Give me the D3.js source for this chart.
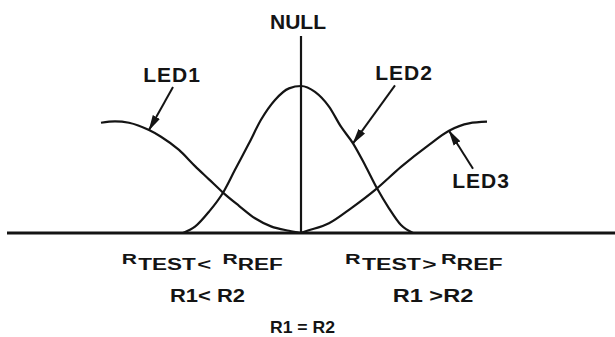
<html>

<head>
    <script src="https://d3js.org/d3.v7.min.js"></script>
    <style>
        body {
            margin: 0px;
            background-color: white;
        }

        text {
            font-family: Arial;
            font-weight: bold;
            fill: #141414;
        }

        .curve {
            fill: none;
            stroke: #141414;
            stroke-width: 2.2;
        }
    </style>
</head>

<body>
    <svg id="chart" width="615" height="337"></svg>
</body>

<script>
    // Position relative to the null point (arbitrary units) and LED response (LED2 peak = 1)
    const led1X = [-10, -9.3, -8.6, -7.6, -7, -6.1, -5.3, -4.6, -3.9, -3.1, -2.3, -1.5, -0.6, 0];
    const led1Y = [0.75, 0.76, 0.75, 0.70, 0.655, 0.565, 0.455, 0.365, 0.275, 0.185, 0.10, 0.045, 0.015, 0];

    const led2X = [-5.9, -5.3, -4.6, -3.9, -3.3, -2.6, -2, -1.3, -0.6, 0, 0.7, 1.4, 2, 2.6, 3.2, 3.8, 4.4, 5, 5.6];
    const led2Y = [0, 0.043, 0.145, 0.274, 0.43, 0.61, 0.77, 0.905, 0.984, 1, 0.96, 0.86, 0.723, 0.61, 0.463, 0.304, 0.168, 0.054, 0];

    const led3X = [0, 0.2, 1.4, 2.5, 3.8, 5, 6.4, 7.4, 8.4, 9.3];
    const led3Y = [0, 0.01, 0.066, 0.168, 0.304, 0.45, 0.6, 0.696, 0.746, 0.757];

    const seriesNames = ["LED1", "LED2", "LED3"];
    const nullLabel = "NULL";
    const leftConds = ["R1< R2"];
    const rightConds = ["R1 >R2"];
    const equalCond = "R1 = R2";

    const svg = d3.select("#chart");

    const xScale = d3.scaleLinear().domain([-10, 10]).range([101, 501]);
    const yScale = d3.scaleLinear().domain([0, 1]).range([233, 86]);

    const series = [
        { name: seriesNames[0], pts: led1X.map((x, i) => [x, led1Y[i]]), tip: 3, tail: [24, -43], label: [-1, -5] },
        { name: seriesNames[1], pts: led2X.map((x, i) => [x, led2Y[i]]), tip: 13, tail: [42, -58], label: [9, -5] },
        { name: seriesNames[2], pts: led3X.map((x, i) => [x, led3Y[i]]), tip: 7, tail: [24, 38], label: [8, 19] }
    ];

    // arrow head
    svg.append("defs").append("marker")
        .attr("id", "head")
        .attr("markerUnits", "userSpaceOnUse")
        .attr("markerWidth", 16).attr("markerHeight", 10)
        .attr("refX", 15).attr("refY", 5)
        .attr("orient", "auto")
        .append("path")
        .attr("d", "M0,1 L16,5 L0,9 Z")
        .attr("fill", "#141414");

    // baseline
    svg.append("line")
        .attr("x1", 7).attr("x2", 615)
        .attr("y1", yScale(0)).attr("y2", yScale(0))
        .attr("stroke", "#141414").attr("stroke-width", 3.2);

    // null line
    svg.append("line")
        .attr("x1", xScale(0)).attr("x2", xScale(0))
        .attr("y1", yScale(1.34)).attr("y2", yScale(0))
        .attr("stroke", "#141414").attr("stroke-width", 2.2);

    svg.append("text")
        .attr("x", xScale(0) - 3).attr("y", 29)
        .attr("text-anchor", "middle")
        .attr("font-size", 21)
        .text(nullLabel);

    const lineGen = d3.line()
        .x(d => xScale(d[0]))
        .y(d => yScale(d[1]))
        .curve(d3.curveMonotoneX);

    svg.selectAll("path.curve").data(series)
        .join("path")
        .attr("class", "curve")
        .attr("d", d => lineGen(d.pts));

    // arrows + labels
    series.forEach(s => {
        const tx = xScale(s.pts[s.tip][0]);
        const ty = yScale(s.pts[s.tip][1]);
        const sx = tx + s.tail[0];
        const sy = ty + s.tail[1];
        svg.append("line")
            .attr("x1", sx).attr("y1", sy)
            .attr("x2", tx).attr("y2", ty)
            .attr("stroke", "#141414").attr("stroke-width", 2)
            .attr("marker-end", "url(#head)");
        svg.append("text")
            .attr("x", sx + s.label[0]).attr("y", sy + s.label[1])
            .attr("text-anchor", "middle")
            .attr("font-size", 21)
            .attr("letter-spacing", 1)
            .text(s.name);
    });

    // R_TEST < R_REF  /  R_TEST > R_REF
    function resistLine(x, width, sign) {
        const t = svg.append("text")
            .attr("x", x).attr("y", 264)
            .attr("textLength", width)
            .attr("lengthAdjust", "spacingAndGlyphs");
        t.append("tspan").attr("font-size", 15).text("R");
        t.append("tspan").attr("font-size", 16).attr("dy", 6).attr("dx", 1).text("TEST");
        t.append("tspan").attr("font-size", 17).attr("dx", 1).text(sign);
        t.append("tspan").attr("font-size", 15).attr("dy", -6).attr("dx", sign == "<" ? 8 : 3).text("R");
        t.append("tspan").attr("font-size", 16).attr("dy", 6).text("REF");
    }
    resistLine(121.7, 161, "<");
    resistLine(345, 157.7, ">");

    function condText(str, x, y, width, size) {
        svg.append("text")
            .attr("x", x).attr("y", y)
            .attr("font-size", size)
            .attr("textLength", width)
            .attr("lengthAdjust", "spacingAndGlyphs")
            .text(str);
    }
    condText(leftConds[0], 170, 302, 75, 18);
    condText(rightConds[0], 392.7, 302, 80.6, 18);
    condText(equalCond, 270, 333, 65, 16.5);
</script>

</html>
